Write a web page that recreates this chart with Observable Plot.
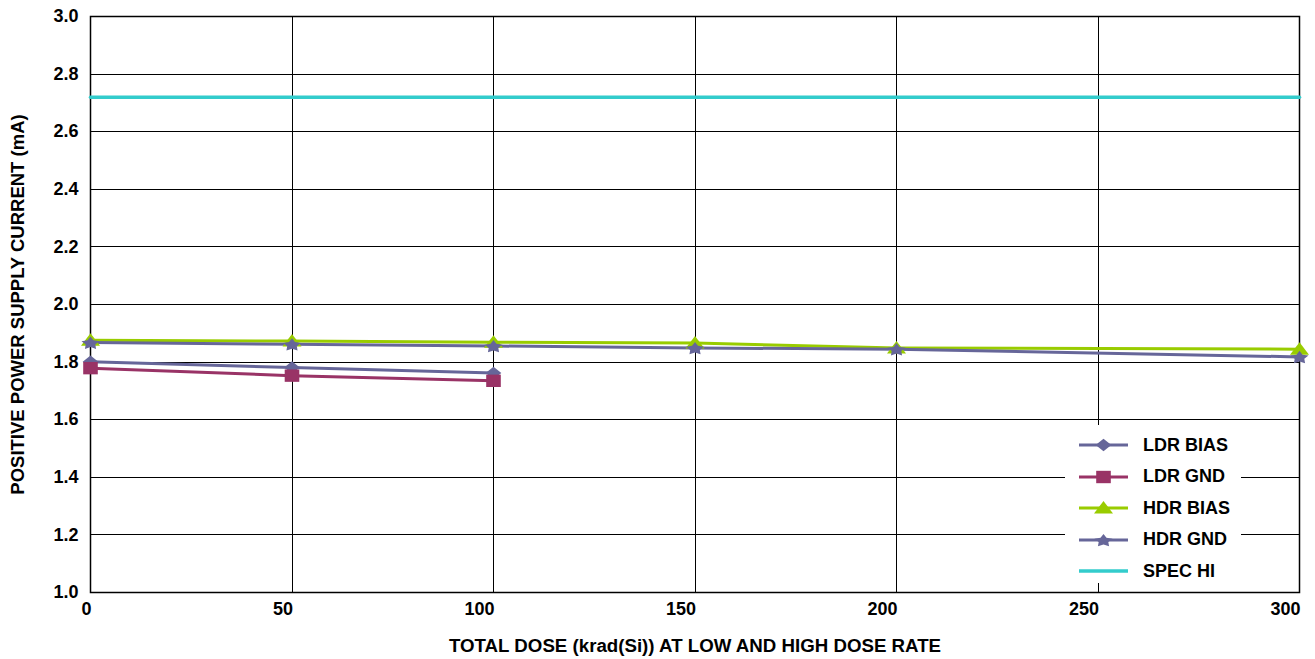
<!DOCTYPE html>
<html><head><meta charset="utf-8">
<script src="https://cdn.jsdelivr.net/npm/d3@7"></script>
<script src="https://cdn.jsdelivr.net/npm/@observablehq/plot@0.6"></script>
<style>
body{margin:0;background:#fff;font-family:Arial,"Liberation Sans",sans-serif;}
#wrap{position:relative;width:1315px;height:659px;}
#legend{position:absolute;left:1065px;top:425px;width:176px;height:158px;background:#fff;}
.li{position:absolute;left:0;height:20px;display:flex;align-items:center;}
.li span{font:bold 18px Arial,"Liberation Sans",sans-serif;color:#000;margin-left:14px;white-space:nowrap;}
</style></head><body><div id="wrap"><div id="legend"></div></div>
<script>
// ---- data ----
const ldrDoses = [0, 50, 100];
const hdrDoses = [0, 50, 100, 150, 200, 300];
const ldrBias = [1.801, 1.781, 1.762];
const ldrGnd  = [1.779, 1.753, 1.735];
const hdrBias = [1.876, 1.873, 1.869, 1.866, 1.849, 1.845];
const hdrGnd  = [1.868, 1.862, 1.856, 1.849, 1.845, 1.818];
const specHi  = 2.72;
const seriesNames   = ["LDR BIAS", "LDR GND", "HDR BIAS", "HDR GND", "SPEC HI"];
const seriesColors  = ["#666699", "#993366", "#99CC00", "#666699", "#33CCCC"];
const seriesSymbols = ["diamond", "square", "triangle", "star", null];
const xTicks = [0, 50, 100, 150, 200, 250, 300];
const yTicks = [1.0, 1.2, 1.4, 1.6, 1.8, 2.0, 2.2, 2.4, 2.6, 2.8, 3.0];
const xTitle = "TOTAL DOSE (krad(Si)) AT LOW AND HIGH DOSE RATE";
const yTitle = "POSITIVE POWER SUPPLY CURRENT (mA)";

// custom (slightly wide) marker shapes, as in the original spreadsheet chart
function poly(pts) {
  return {draw(ctx) { ctx.moveTo(pts[0][0], pts[0][1]); for (let k = 1; k < pts.length; ++k) ctx.lineTo(pts[k][0], pts[k][1]); ctx.closePath(); }};
}
const starPts = [];
for (let k = 0; k < 10; ++k) {
  const a = -Math.PI / 2 + k * Math.PI / 5, rr = k % 2 ? 4.6 : 8.6;
  starPts.push([Math.cos(a) * rr * 1.1, Math.sin(a) * rr * 0.8 + 0.8]);
}
const symbolShapes = {
  diamond: poly([[0, -6.2], [7.8, 0], [0, 6.2], [-7.8, 0]]),
  square: poly([[-7.3, -6.2], [7.3, -6.2], [7.3, 6.2], [-7.3, 6.2]]),
  triangle: poly([[0, -7], [9.5, 5.5], [-9.5, 5.5]]),
  star: poly(starPts)
};

const series = [
  {name: seriesNames[0], xs: ldrDoses, ys: ldrBias},
  {name: seriesNames[1], xs: ldrDoses, ys: ldrGnd},
  {name: seriesNames[2], xs: hdrDoses, ys: hdrBias},
  {name: seriesNames[3], xs: hdrDoses, ys: hdrGnd}
];
const rows = series.flatMap((s, i) => s.xs.map((x, j) => ({series: s.name, idx: i, x, y: s.ys[j]})));
const spec = [{x: 0, y: specHi}, {x: 300, y: specHi}];
const FONT = 'Arial, "Liberation Sans", sans-serif';

const marks = [
  Plot.gridX(xTicks, {stroke: "#000", strokeOpacity: 1, strokeWidth: 1, shapeRendering: "crispEdges"}),
  Plot.gridY(yTicks, {stroke: "#000", strokeOpacity: 1, strokeWidth: 1, shapeRendering: "crispEdges"}),
  Plot.frame({stroke: "#000", strokeWidth: 1.5}),
  Plot.axisX(xTicks, {tickSize: 0, tickPadding: 0, textAnchor: "end", dx: 1, dy: 10, label: null, fontSize: 18, fontWeight: "bold"}),
  Plot.axisY(yTicks, {tickSize: 0, tickPadding: 12, tickFormat: d3.format(".1f"), label: null, fontSize: 18, fontWeight: "bold"}),
  Plot.line(spec, {x: "x", y: "y", stroke: seriesColors[4], strokeWidth: 3.5})
];
series.forEach((s, i) => {
  const d = rows.filter(r => r.idx === i);
  marks.push(Plot.line(d, {x: "x", y: "y", stroke: seriesColors[i], strokeWidth: 3}));
});
series.forEach((s, i) => {
  const d = rows.filter(r => r.idx === i);
  marks.push(Plot.dot(d, {x: "x", y: "y", symbol: () => symbolShapes[seriesSymbols[i]], r: 6, fill: seriesColors[i], stroke: "none"}));
});
marks.push(Plot.text([xTitle], {frameAnchor: "bottom", lineAnchor: "middle", dy: 54, text: d => d, fontSize: 18.7, fontWeight: "bold", fill: "#000"}));
marks.push(Plot.text([yTitle], {frameAnchor: "left", textAnchor: "middle", lineAnchor: "middle", dx: -72, rotate: -90, text: d => d, fontSize: 18.5, fontWeight: "bold", fill: "#000"}));

const chart = Plot.plot({
  width: 1315, height: 659,
  marginLeft: 90, marginRight: 16, marginTop: 16, marginBottom: 67,
  style: {fontFamily: FONT, fontSize: "18px", color: "#000", background: "#fff", overflow: "visible"},
  x: {domain: [0, 300]},
  y: {domain: [1, 3]},
  symbol: {type: "identity"},
  marks
});
document.getElementById("wrap").prepend(chart);

// legend (HTML overlay)
const leg = document.getElementById("legend");
seriesNames.forEach((name, i) => {
  const item = document.createElement("div");
  item.className = "li";
  item.style.top = (10 + i * 31.5) + "px";
  const svg = d3.create("svg").attr("width", 64).attr("height", 20);
  svg.append("line").attr("x1", 14).attr("x2", 63).attr("y1", 10).attr("y2", 10)
    .attr("stroke", seriesColors[i]).attr("stroke-width", i === 4 ? 3.5 : 3);
  if (seriesSymbols[i]) {
    const p = d3.path();
    symbolShapes[seriesSymbols[i]].draw(p, 0);
    svg.append("path").attr("transform", "translate(38.5,10)").attr("d", p.toString()).attr("fill", seriesColors[i]);
  }
  item.appendChild(svg.node());
  const sp = document.createElement("span");
  sp.textContent = name;
  item.appendChild(sp);
  leg.appendChild(item);
});
</script>
</body></html>
